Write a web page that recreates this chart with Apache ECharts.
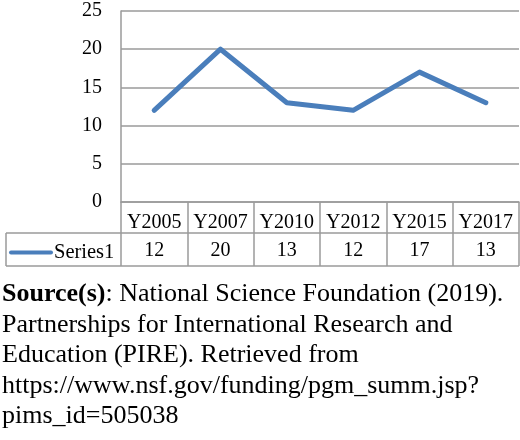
<!DOCTYPE html>
<html><head><meta charset="utf-8">
<script src="https://cdn.jsdelivr.net/npm/echarts@6/dist/echarts.min.js"></script>
<style>html,body{margin:0;padding:0;background:#fff}#c{width:520px;height:440px}</style>
</head><body><div id="c"></div>
<script>
var categories = ['Y2005','Y2007','Y2010','Y2012','Y2015','Y2017'];
var seriesName = 'Series1';
var values = [12, 20, 13, 12, 17, 13];
var yTicks = {min: 0, max: 25, interval: 5};
var sourceLines = [
  'National Science Foundation (2019).',
  'Partnerships for International Research and',
  'Education (PIRE). Retrieved from',
  'https://www.nsf.gov/funding/pgm_summ.jsp?',
  'pims_id=505038'
];

var FONT = 'Liberation Serif';
var GRAY = '#9a9a9a';
var chart = echarts.init(document.getElementById('c'));
var sourceText = '{b|Source(s)}: ' + sourceLines.join('\n');
chart.setOption({
  animation: false,
  textStyle: {fontFamily: FONT},
  grid: {left: 121, right: 1, top: 11, bottom: 238},
  legend: {
    show: true, left: 4, top: 237, itemWidth: 44, itemHeight: 14, itemGap: 0,
    textStyle: {fontFamily: FONT, fontSize: 20.5, color: '#000', padding: [0,0,0,-4]},
    data: [{name: seriesName, icon: 'path://M2,6 L42,6 A2,2 0 0 1 42,10 L2,10 A2,2 0 0 1 2,6 Z'}]
  },
  xAxis: [{
    type: 'category', data: categories, boundaryGap: true, position: 'bottom',
    axisLine: {show: true, lineStyle: {color: GRAY, width: 1.5}},
    axisTick: {show: true, interval: 0, length: 64, lineStyle: {color: GRAY, width: 1.5}},
    axisLabel: {interval: 0, margin: 11, fontFamily: FONT, fontSize: 20, color: '#000'}
  }, {
    type: 'category', data: values.map(String), boundaryGap: true, position: 'bottom', offset: 32,
    axisLine: {show: false}, axisTick: {show: false},
    axisLabel: {interval: 0, margin: 7, fontFamily: FONT, fontSize: 20, color: '#000'}
  }],
  yAxis: {
    type: 'value', min: yTicks.min, max: yTicks.max, interval: yTicks.interval,
    axisLine: {show: true, lineStyle: {color: GRAY, width: 1.5}},
    axisTick: {show: false},
    splitLine: {show: true, lineStyle: {color: GRAY, width: 1.5}},
    axisLabel: {margin: 19, fontFamily: FONT, fontSize: 20, color: '#000'}
  },
  series: [{
    name: seriesName, type: 'line', data: values, symbol: 'none',
    lineStyle: {color: '#4a7ebb', width: 5, cap: 'round', join: 'round'}, itemStyle: {color: '#4a7ebb'}
  }],
  graphic: [
    {type: 'line', shape: {x1: 6, y1: 233, x2: 519, y2: 233}, style: {stroke: GRAY, lineWidth: 1.5}},
    {type: 'line', shape: {x1: 6, y1: 266, x2: 519, y2: 266}, style: {stroke: GRAY, lineWidth: 1.5}},
    {type: 'line', shape: {x1: 6, y1: 233, x2: 6, y2: 266}, style: {stroke: GRAY, lineWidth: 1.5}},
    {type: 'text', left: 2, top: 279, style: {
      text: sourceText, font: '26px "Liberation Serif"', fill: '#000', lineHeight: 30.5,
      rich: {b: {fontWeight: 'bold', fontFamily: FONT, fontSize: 26, fill: '#000', lineHeight: 30.5}}
    }}
  ]
});
</script></body></html>
